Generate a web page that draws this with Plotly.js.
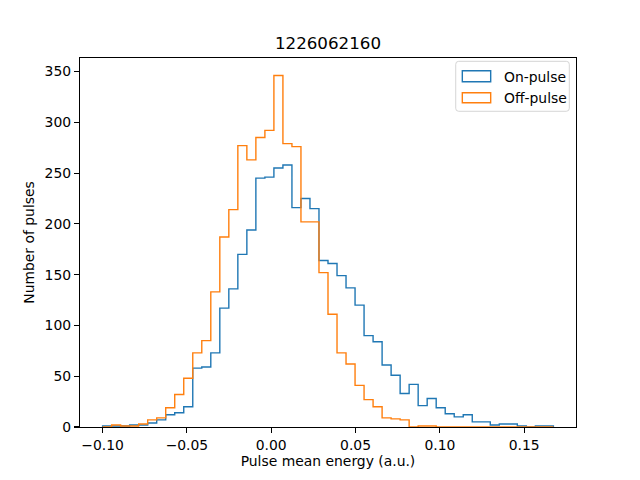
<!DOCTYPE html>
<html>
<head>
<meta charset="utf-8">
<script src="https://cdn.plot.ly/plotly-3.0.1.min.js"></script>
<style>html,body{margin:0;padding:0;background:#fff;}#chart{width:640px;height:480px;}</style>
</head>
<body>
<div id="chart"></div>
<script>
// Histogram bin layout (shared by both series)
var binStart = -0.1000;
var binWidth = 0.005346;

// Counts per bin (50 bins)
var onPulse = [1,1,1,2,2,4,7,12,14,20,
               58,59,73,117,136,170,194,245,246,255,
               258,216,225,215,164,161,149,137,120,90,
               84,61,51,33,42,21,28,19,13,10,
               12,5,5,2,3,3,1,0,1,1];
var offPulse = [0,2,1,1,3,7,9,19,32,48,
                73,85,133,187,214,277,263,285,292,346,
                279,276,202,202,152,111,73,62,41,27,
                20,9,8,7,0,1,1,0,0,0,
                0,0,0,0,0,0,0,0,0,0];

var xTickVals = [-0.10,-0.05,0.00,0.05,0.10,0.15];
var xTickText = ["\u22120.10","\u22120.05","0.00","0.05","0.10","0.15"];
var yTickVals = [0,50,100,150,200,250,300,350];

var seriesNames = ["On-pulse","Off-pulse"];
var seriesColors = ["#1f77b4","#ff7f0e"];

function stepXY(counts){
  var xs = [], ys = [];
  xs.push(binStart); ys.push(0);
  for (var i = 0; i < counts.length; i++){
    xs.push(binStart + (i+1)*binWidth);
    ys.push(counts[i]);
  }
  xs.push(binStart + counts.length*binWidth); ys.push(0);
  return {x: xs, y: ys};
}

var traces = [onPulse, offPulse].map(function(c, k){
  var s = stepXY(c);
  return {
    type: 'scatter', mode: 'lines', x: s.x, y: s.y,
    line: {shape: 'vh', color: seriesColors[k], width: 1.4},
    name: seriesNames[k], showlegend: false, hoverinfo: 'skip'
  };
});

// Manual matplotlib-style legend (paper coordinates)
var L = {x0: 0.7575, x1: 0.9865, y0: 0.8556, y1: 0.991, rx: 0.006, ry: 0.0081};
var boxPath = 'M' + (L.x0+L.rx) + ',' + L.y1 +
  ' L' + (L.x1-L.rx) + ',' + L.y1 + ' Q' + L.x1 + ',' + L.y1 + ' ' + L.x1 + ',' + (L.y1-L.ry) +
  ' L' + L.x1 + ',' + (L.y0+L.ry) + ' Q' + L.x1 + ',' + L.y0 + ' ' + (L.x1-L.rx) + ',' + L.y0 +
  ' L' + (L.x0+L.rx) + ',' + L.y0 + ' Q' + L.x0 + ',' + L.y0 + ' ' + L.x0 + ',' + (L.y0+L.ry) +
  ' L' + L.x0 + ',' + (L.y1-L.ry) + ' Q' + L.x0 + ',' + L.y1 + ' ' + (L.x0+L.rx) + ',' + L.y1 + ' Z';

var patchY = [[0.9358,0.9656],[0.8789,0.906]];
var textY = [0.9493, 0.8916];

var shapes = [{type:'path', xref:'paper', yref:'paper', path: boxPath,
  fillcolor:'rgba(255,255,255,0.8)', line:{color:'#d5d5d5', width:1}}];
var annotations = [];
for (var k = 0; k < 2; k++){
  shapes.push({type:'rect', xref:'paper', yref:'paper', x0:0.7708, x1:0.828,
    y0:patchY[k][0], y1:patchY[k][1], fillcolor:'rgba(0,0,0,0)',
    line:{color:seriesColors[k], width:1.4}});
  annotations.push({xref:'paper', yref:'paper', x:0.8514, y:textY[k], xanchor:'left', yanchor:'middle',
    text: seriesNames[k], showarrow:false, font:{family:'DejaVu Sans', size:13.9, color:'#000'}});
}

var layout = {
  width: 640, height: 480,
  margin: {l: 80, r: 64, t: 58, b: 53, pad: 0},
  paper_bgcolor: '#fff', plot_bgcolor: '#fff',
  font: {family: 'DejaVu Sans', size: 13.9, color: '#000'},
  title: {text: '1226062160', font: {family:'DejaVu Sans', size: 16.7, color:'#000'},
          xref: 'paper', x: 0.5, xanchor: 'center', yref: 'container', y: 0.91, yanchor: 'middle'},
  xaxis: {
    range: [-0.1134, 0.1807], tickmode: 'array', tickvals: xTickVals, ticktext: xTickText,
    showgrid: false, zeroline: false, showline: true, mirror: true, linecolor: '#000', linewidth: 1.1,
    ticks: 'outside', ticklen: 5, tickwidth: 1.1, tickcolor: '#000',
    title: {text: 'Pulse mean energy (a.u.)', standoff: 4, font:{family:'DejaVu Sans', size:13.9}}
  },
  yaxis: {
    range: [0, 363.3], tickmode: 'array', tickvals: yTickVals,
    showgrid: false, zeroline: false, showline: true, mirror: true, linecolor: '#000', linewidth: 1.1,
    ticks: 'outside', ticklen: 5, tickwidth: 1.1, tickcolor: '#000',
    title: {text: 'Number of pulses', standoff: 6, font:{family:'DejaVu Sans', size:13.9}}
  },
  shapes: shapes,
  annotations: annotations,
  showlegend: false
};

Plotly.newPlot('chart', traces, layout, {displayModeBar: false, staticPlot: true});
</script>
</body>
</html>
